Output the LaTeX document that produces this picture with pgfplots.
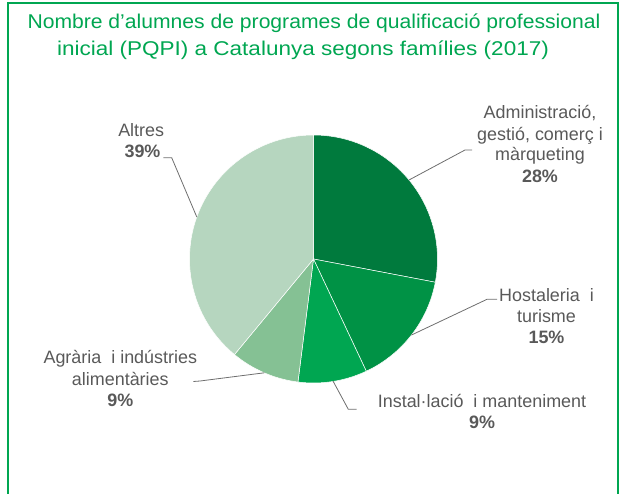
\documentclass[border=0pt]{standalone}
\usepackage{fontspec}
\setmainfont{Liberation Sans}
\usepackage{graphicx}
\usepackage{pgfplots}
\pgfplotsset{compat=1.18}
\definecolor{cA}{RGB}{0,122,61}
\definecolor{cB}{RGB}{0,146,69}
\definecolor{cC}{RGB}{0,166,81}
\definecolor{cD}{RGB}{133,193,148}
\definecolor{cE}{RGB}{182,214,191}
\definecolor{ttl}{RGB}{0,166,81}
\definecolor{lbl}{RGB}{89,89,89}
\definecolor{ldr}{RGB}{110,110,110}
% slice: cumulative start (%), share (%), colour
\newcommand\slice[3]{\fill[#3, draw=white, line width=0.5bp] (axis cs:313.5,259) -- ++({90-3.6*#1}:124bp) arc[start angle={90-3.6*#1}, delta angle={-3.6*#2}, radius=124bp] -- cycle;}
\newcommand\lab[3]{\node[anchor=base, text=lbl, font=\fontsize{18}{21}\selectfont, inner sep=0pt] at (axis cs:#1,#2) {#3};}
\newcommand\tit[4]{\node[anchor=base, text=ttl, font=\fontsize{20}{22}\selectfont, inner sep=0pt] at (axis cs:#1,#2) {\scalebox{#3}[1]{#4}};}
\begin{document}
\begin{tikzpicture}
\begin{axis}[x=1bp, y=1bp, xmin=0, xmax=620, ymin=0, ymax=494, y dir=reverse,
  hide axis, enlargelimits=false, clip=false]
% frame
\draw[ttl, line width=2bp] (axis cs:8.3,503) -- (axis cs:8.3,3.3) -- (axis cs:618,3.3) -- (axis cs:618,503);
% title
\tit{314}{28.3}{1.06}{Nombre d’alumnes de programes de qualificació professional}
\tit{303}{55}{1.13}{inicial (PQPI) a Catalunya segons famílies (2017)}
% pie: Administració 28, Hostaleria 15, Instal·lació 9, Agrària 9, Altres 39
\slice{0}{28}{cA}
\slice{28}{15}{cB}
\slice{43}{9}{cC}
\slice{52}{9}{cD}
\slice{61}{39}{cE}
% leader lines
\draw[ldr, line width=0.8bp] (axis cs:409,180) -- (axis cs:465,150) -- (axis cs:472,150);
\draw[ldr, line width=0.8bp] (axis cs:411.5,335) -- (axis cs:487,299.3) -- (axis cs:497,299.3);
\draw[ldr, line width=0.8bp] (axis cs:333,381) -- (axis cs:348.3,409.3) -- (axis cs:356.7,409.3);
\draw[ldr, line width=0.8bp] (axis cs:264.3,372.8) -- (axis cs:200,381) -- (axis cs:193.3,381.5);
\draw[ldr, line width=0.8bp] (axis cs:196.8,217) -- (axis cs:171.7,157.7) -- (axis cs:163.3,157.7);
% labels
\lab{540}{118.3}{Administració,}
\lab{540}{140}{gestió, comerç i}
\lab{540}{160.7}{màrqueting}
\lab{540}{182.7}{\bfseries 28\%}
\lab{546.5}{301.7}{Hostaleria\ \ i}
\lab{546.5}{322.7}{turisme}
\lab{546.5}{343.3}{\bfseries 15\%}
\lab{482}{407.3}{Instal·lació\ \ i manteniment}
\lab{482}{428.3}{\bfseries 9\%}
\lab{120.3}{363.3}{Agrària\ \ i indústries}
\lab{120.3}{385}{alimentàries}
\lab{120.3}{406}{\bfseries 9\%}
\lab{141.2}{136.7}{Altres}
\lab{142.5}{157.7}{\bfseries 39\%}
\end{axis}
\pgfresetboundingbox
\path (0,0) rectangle (620bp,494bp);
\end{tikzpicture}
\end{document}
